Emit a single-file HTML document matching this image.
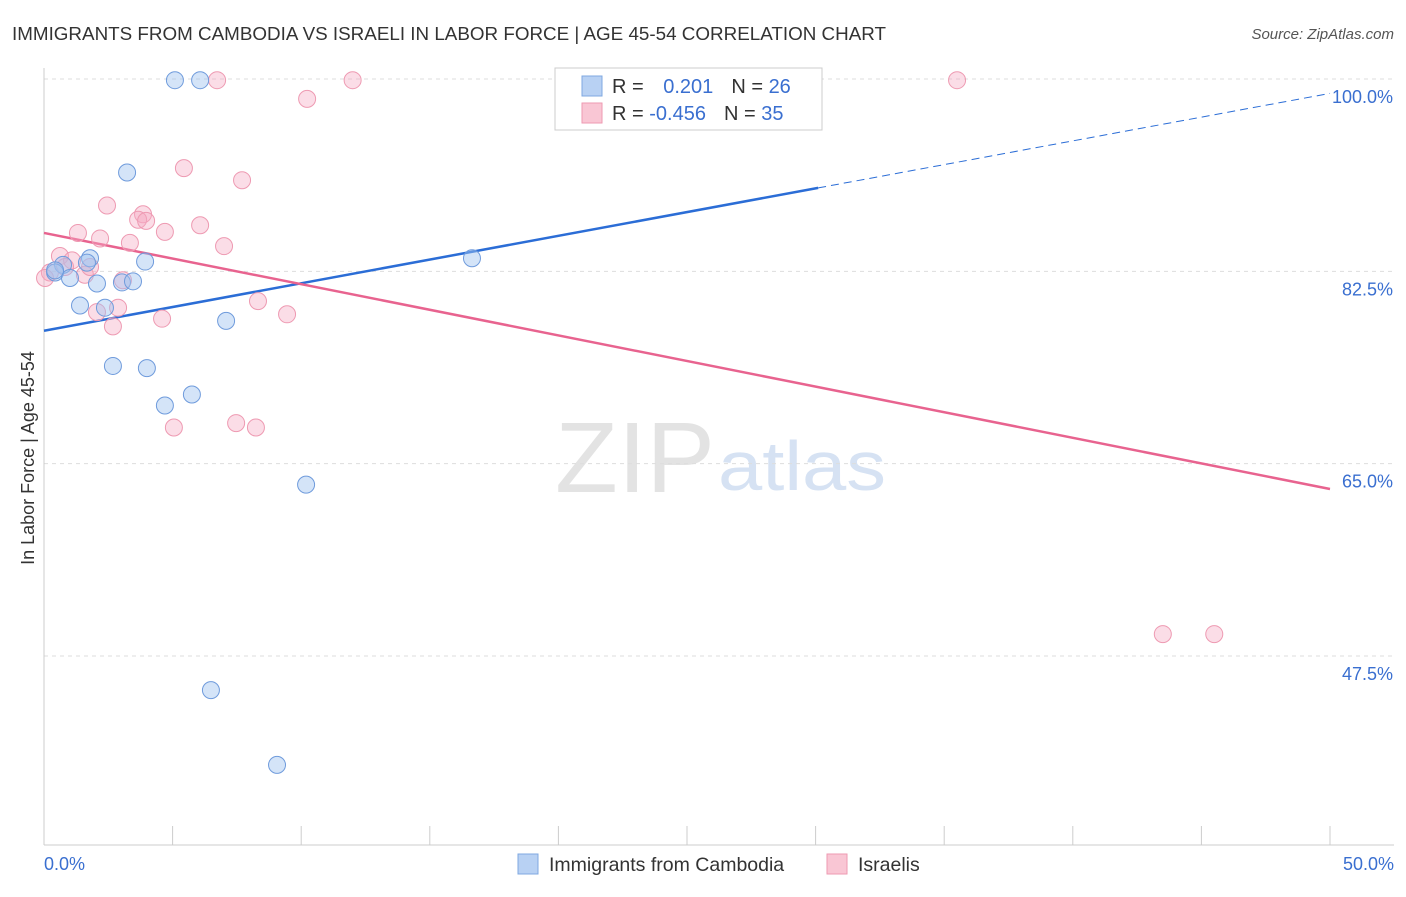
<!DOCTYPE html>
<html><head><meta charset="utf-8"><style>
body{margin:0;background:#fff;font-family:"Liberation Sans",sans-serif;}
svg text{font-family:"Liberation Sans",sans-serif;}
</style></head><body>
<svg id="c" width="1406" height="892">
<text x="12" y="40" font-size="18.5" fill="#333" textLength="874" lengthAdjust="spacingAndGlyphs">IMMIGRANTS FROM CAMBODIA VS ISRAELI IN LABOR FORCE | AGE 45-54 CORRELATION CHART</text>
<text x="1394" y="39" font-size="15" fill="#555" font-style="italic" text-anchor="end">Source: ZipAtlas.com</text>
<text x="34" y="458" font-size="18" fill="#333" text-anchor="middle" transform="rotate(-90 34 458)">In Labor Force | Age 45-54</text>
<text x="555" y="492" font-size="100" fill="#e3e3e3" font-family="Liberation Serif" textLength="160" lengthAdjust="spacingAndGlyphs">ZIP</text>
<text x="718" y="490" font-size="70" fill="#d6e2f3" textLength="168" lengthAdjust="spacingAndGlyphs">atlas</text>
<g id="grid"></g><g id="trend"></g><g id="pts"></g>
<g>
<rect x="555" y="68" width="267" height="62" fill="#fff" stroke="#ccc"/>
<rect x="582" y="76" width="20" height="20" fill="#b8d1f3" stroke="#7fa8e0"/>
<rect x="582" y="103" width="20" height="20" fill="#f9c6d4" stroke="#ee9ab2"/>
<text x="612" y="93" font-size="20" fill="#333">R = <tspan fill="#3a6fd0" dx="14">0.201</tspan><tspan fill="#333" dx="18">N = </tspan><tspan fill="#3a6fd0">26</tspan></text>
<text x="612" y="120" font-size="20" fill="#333">R = <tspan fill="#3a6fd0">-0.456</tspan><tspan fill="#333" dx="18">N = </tspan><tspan fill="#3a6fd0">35</tspan></text>
</g>
<g>
<rect x="518" y="854" width="20" height="20" fill="#b8d1f3" stroke="#7fa8e0"/>
<text x="549" y="871" font-size="19.5" fill="#333">Immigrants from Cambodia</text>
<rect x="827" y="854" width="20" height="20" fill="#f9c6d4" stroke="#ee9ab2"/>
<text x="858" y="871" font-size="19.5" fill="#333">Israelis</text>
</g>
</svg>
<script>
const yTicks=[100,82.5,65,47.5];
const yTickLabels=["100.0%","82.5%","65.0%","47.5%"];
const blueX=[5.09,6.07,3.23,1.79,3.93,0.74,0.43,1.01,2.06,3.03,3.46,1.40,2.37,7.08,2.68,4.0,4.70,5.75,16.64,10.19,6.49,9.06,24.73,26.56,0.43,1.67];
const blueY=[99.8,99.8,91.4,83.6,83.3,83.0,82.3,81.8,81.3,81.4,81.5,79.3,79.1,77.9,73.8,73.6,70.2,71.2,83.6,63.0,44.3,37.5,99.8,99.8,82.5,83.2];
const pinkX=[6.73,12.0,35.5,10.23,5.44,7.70,2.45,3.85,3.66,3.97,6.07,4.70,1.32,2.18,3.34,7.0,0.62,1.09,1.59,3.07,2.88,2.06,2.68,4.59,8.32,9.45,5.05,7.47,8.24,43.5,45.5,0.23,1.79,0.04,0.82];
const pinkY=[99.8,99.8,99.8,98.1,91.8,90.7,88.4,87.6,87.1,87.0,86.6,86.0,85.9,85.4,85.0,84.7,83.8,83.4,82.1,81.6,79.1,78.7,77.4,78.1,79.7,78.5,68.2,68.6,68.2,49.4,49.4,82.3,82.8,81.8,82.8];
const blueTrend=[[0,77.0],[30.1,90.0],[50,98.6]];
const pinkTrend=[[0,85.9],[50,62.6]];
const X=v=>44+v*25.72, Y=v=>78+(100-v)*10.99;
const NS="http://www.w3.org/2000/svg";
function mk(t,a,p){const e=document.createElementNS(NS,t);for(const k in a)e.setAttribute(k,a[k]);document.getElementById(p).appendChild(e);return e;}
yTicks.forEach((t,i)=>{
 let l=mk('line',{x1:44,x2:1394,y1:Y(t)+1,y2:Y(t)+1,stroke:'#ddd','stroke-dasharray':'4,4'},'grid');
 
 
 let tx=mk('text',{x:1393,y:Y(t)+25,'font-size':18,fill:'#3a6fd0','text-anchor':'end'},'grid');tx.textContent=yTickLabels[i];
 
 
});
let ax=mk('line',{x1:44,x2:44,y1:68,y2:845,stroke:'#ccc'},'grid');


let bx=mk('line',{x1:44,x2:1394,y1:845,y2:845,stroke:'#ccc'},'grid');


for(let i=0;i<=10;i++){let t=mk('line',{x1:X(i*5),x2:X(i*5),y1:826,y2:845,stroke:'#ccc'},'grid');
 
 }
[["0.0%",44,'start'],["50.0%",1394,'end']].forEach(d=>{let t=mk('text',{x:d[1],y:870,'font-size':18,fill:'#3a6fd0','text-anchor':d[2]},'grid');t.textContent=d[0];
 
 });
let b1=mk('line',{x1:X(blueTrend[0][0]),y1:Y(blueTrend[0][1]),x2:X(blueTrend[1][0]),y2:Y(blueTrend[1][1]),stroke:'#2b6dd6','stroke-width':2.5},'trend');


let b2=mk('line',{x1:X(blueTrend[1][0]),y1:Y(blueTrend[1][1]),x2:X(blueTrend[2][0]),y2:Y(blueTrend[2][1]),stroke:'#2b6dd6','stroke-width':1,'stroke-dasharray':'8,5'},'trend');


let p1=mk('line',{x1:X(pinkTrend[0][0]),y1:Y(pinkTrend[0][1]),x2:X(pinkTrend[1][0]),y2:Y(pinkTrend[1][1]),stroke:'#e8638f','stroke-width':2.5},'trend');


pinkX.forEach((x,i)=>{let c=mk('circle',{cx:X(x),cy:Y(pinkY[i]),r:8.5,fill:'rgba(246,170,195,0.4)',stroke:'#ee9ab2','stroke-width':1},'pts');
 
 });
blueX.forEach((x,i)=>{let c=mk('circle',{cx:X(x),cy:Y(blueY[i]),r:8.5,fill:'rgba(160,195,240,0.45)',stroke:'#6f9bdc','stroke-width':1},'pts');
 
 });
</script>
</body></html>
